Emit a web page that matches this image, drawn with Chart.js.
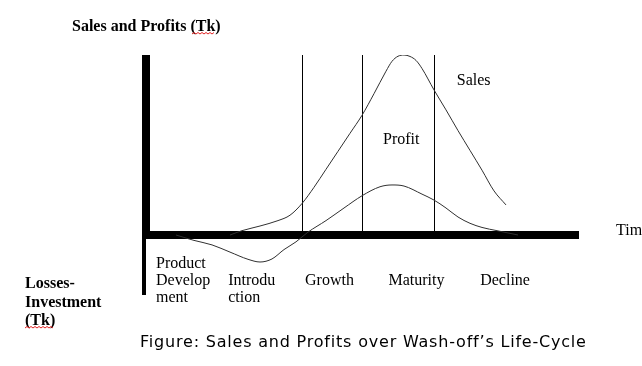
<!DOCTYPE html>
<html>
<head>
<meta charset="utf-8">
<title>Sales and Profits over Wash-off's Life-Cycle</title>
<script src="https://cdn.jsdelivr.net/npm/chart.js@4/dist/chart.umd.min.js"></script>
<style>
  html, body { margin: 0; padding: 0; background: #fff; }
  canvas { display: block; }
</style>
</head>
<body>
<canvas id="lifeCycle" width="642" height="366"></canvas>
<script>
// time in months (0 = launch of product development), values in Tk
var salesTime = [14, 16, 19, 22, 24, 26, 28, 30, 32, 34, 36, 38, 40, 41, 42, 43, 44, 45, 46, 48, 50, 52, 54, 56, 58, 60];
var sales = [0, 2.4, 5, 8, 11, 17.5, 26.5, 36.5, 46.5, 56.5, 66.5, 78.5, 91, 96.5, 99.3, 100, 99.2, 97, 92.5, 80.6, 69.5, 58, 47, 36, 24.5, 16.7];

var profitTime = [5, 8, 11, 14, 17, 19, 21, 23, 25, 27, 30, 33, 36, 39, 41, 43, 46, 48, 50, 52, 54, 56, 58.5, 62];
var profit = [0, -3, -5.5, -9.5, -13.5, -15, -13.3, -8.1, -3.8, 1.6, 8, 15, 21.8, 26.8, 27.8, 27.2, 22.7, 19.4, 15, 10, 6.5, 4.2, 2.4, 0];

var stageNames = [['Product', 'Develop', 'ment'], ['', 'Introdu', 'ction'], ['', 'Growth'], ['', 'Maturity'], ['', 'Decline']];
var stageLabelAt = [1.67, 13.7, 26.5, 40.4, 55.7];
var stageBounds = [26, 36, 48];

var serif = "'Liberation Serif', 'Times New Roman', serif";

function toPoints(xs, ys) {
    return xs.map(function(x, i) { return {x: x, y: ys[i]}; });
}

function squiggle(ctx, x1, x2, y) {
    ctx.save();
    ctx.strokeStyle = '#e02020';
    ctx.lineWidth = 1;
    ctx.beginPath();
    ctx.moveTo(x1, y);
    var up = true;
    for (var x = x1 + 2; x <= x2; x += 2) {
        ctx.lineTo(x, up ? y - 1.5 : y);
        up = !up;
    }
    ctx.stroke();
    ctx.restore();
}

var decorations = {
    id: 'decorations',
    beforeDatasetsDraw: function(chart) {
        var ctx = chart.ctx;
        var xs = chart.scales.x, ys = chart.scales.y;
        var x0 = xs.getPixelForValue(0);
        var y0 = ys.getPixelForValue(0);
        ctx.save();
        // stage boundaries
        ctx.strokeStyle = '#000';
        ctx.lineWidth = 1;
        stageBounds.forEach(function(b) {
            var px = Math.round(xs.getPixelForValue(b)) + 0.5;
            ctx.beginPath();
            ctx.moveTo(px, ys.top);
            ctx.lineTo(px, y0 - 4);
            ctx.stroke();
        });
        // vertical axis, thinner below zero
        ctx.fillStyle = '#000';
        ctx.fillRect(x0 - 4, ys.top, 8, y0 - ys.top);
        ctx.fillRect(x0 - 4, y0, 4, ys.bottom - y0);
        ctx.restore();
    },
    afterDraw: function(chart) {
        var ctx = chart.ctx;
        var xs = chart.scales.x, ys = chart.scales.y;
        ctx.save();
        ctx.fillStyle = '#000';
        ctx.textBaseline = 'alphabetic';
        ctx.textAlign = 'left';

        ctx.font = 'bold 16px ' + serif;
        ctx.fillText('Sales and Profits (Tk)', 72, 31);
        squiggle(ctx, 192, 215, 34);

        ctx.fillText('Losses-', 25, 288);
        ctx.fillText('Investment', 25, 306.5);
        ctx.fillText('(Tk)', 25, 325);
        squiggle(ctx, 25, 53, 328);

        ctx.font = '16px ' + serif;
        ctx.fillText('Sales', xs.getPixelForValue(51.8), ys.getPixelForValue(83.3));
        ctx.fillText('Profit', xs.getPixelForValue(39.5), ys.getPixelForValue(50.5));
        ctx.fillText('Time', 616, ys.getPixelForValue(0));

        ctx.font = "16px 'DejaVu Sans', Verdana, sans-serif";
        ctx.letterSpacing = '0.8px';
        ctx.fillText('Figure: Sales and Profits over Wash-off\u2019s Life-Cycle', 140, 347);
        ctx.restore();
    }
};

var ctx = document.getElementById('lifeCycle').getContext('2d');
var lifeCycleChart = new Chart(ctx, {
    type: 'line',
    data: {
        datasets: [{
            label: 'Sales',
            data: toPoints(salesTime, sales),
            borderColor: '#303030',
            borderWidth: 1,
            pointRadius: 0,
            cubicInterpolationMode: 'monotone',
            fill: false
        }, {
            label: 'Profit',
            data: toPoints(profitTime, profit),
            borderColor: '#303030',
            borderWidth: 1,
            pointRadius: 0,
            cubicInterpolationMode: 'monotone',
            fill: false
        }]
    },
    options: {
        responsive: false,
        animation: false,
        devicePixelRatio: 1,
        layout: {
            padding: {left: 146, top: 55, right: 64, bottom: 71}
        },
        plugins: {
            legend: {display: false},
            tooltip: {enabled: false},
            title: {display: false}
        },
        scales: {
            x: {
                type: 'linear',
                min: 0,
                max: 72,
                position: {y: 0},
                grid: {display: false, drawTicks: false},
                border: {display: true, width: 8, color: '#000'},
                afterBuildTicks: function(axis) {
                    axis.ticks = stageLabelAt.map(function(v) { return {value: v}; });
                },
                ticks: {
                    autoSkip: false,
                    maxRotation: 0,
                    minRotation: 0,
                    align: 'start',
                    padding: 20,
                    color: '#000',
                    font: {family: serif, size: 16, lineHeight: '17px'},
                    callback: function(value, index) {
                        return stageNames[index];
                    }
                }
            },
            y: {
                type: 'linear',
                display: false,
                min: -100 / 3,
                max: 100
            }
        }
    },
    plugins: [decorations]
});
</script>
</body>
</html>
